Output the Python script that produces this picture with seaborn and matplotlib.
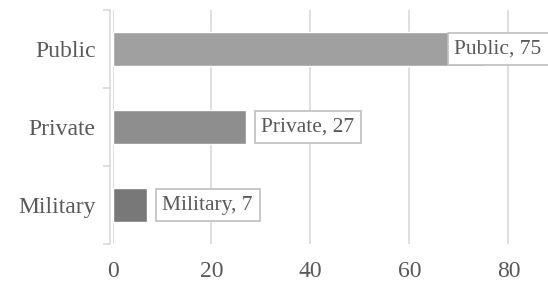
import matplotlib
matplotlib.use("Agg")
import matplotlib.pyplot as plt
import seaborn as sns
import pandas as pd

categories = ["Public", "Private", "Military"]
values = [75, 27, 7]
bar_colors = ["#a0a0a0", "#8e8e8e", "#787878"]

df = pd.DataFrame({"sector": categories, "count": values})

sns.set_style("white")
plt.rcParams["font.family"] = ["Liberation Serif", "DejaVu Serif"]

fig = plt.figure(figsize=(5.48, 2.85), dpi=100)
ax = fig.add_axes([112.5 / 548, 41 / 285, (548 - 112.5) / 548, 234 / 285])

sns.barplot(data=df, x="count", y="sector", hue="sector", palette=bar_colors,
            orient="h", width=0.44, legend=False, ax=ax, saturation=1)

xmax = 88
ax.set_xlim(0, xmax)
ax.set_ylim(2.5, -0.5)
ax.set_xticks([0, 20, 40, 60, 80])
ax.xaxis.grid(True, color="#d9d9d9", linewidth=1.2)
ax.set_axisbelow(True)
ax.set_xlabel("")
ax.set_ylabel("")

for s in ["top", "right", "bottom"]:
    ax.spines[s].set_visible(False)
ax.spines["left"].set_color("#d9d9d9")
ax.spines["left"].set_linewidth(1.2)
ax.spines["left"].set_position(("outward", 2))

ax.set_yticks([-0.5, 0.5, 1.5, 2.5], minor=True)
ax.tick_params(axis="y", which="minor", length=5, color="#d9d9d9", width=1.2, left=True)
ax.tick_params(axis="y", which="major", length=0, pad=10, labelsize=17, labelcolor="#595959")
ax.tick_params(axis="x", length=0, pad=12, labelsize=17, labelcolor="#595959")

box = dict(boxstyle="square,pad=0.32", facecolor="white", edgecolor="#bfbfbf", linewidth=1.2)
for i, (cat, val) in enumerate(zip(categories, values)):
    label = f"{cat}, {val}"
    if val + 20 > xmax:
        ax.annotate(label, xy=(xmax, i), xytext=(-4.5, 0), textcoords="offset points",
                    ha="right", va="center", fontsize=15.5, color="#595959", bbox=box,
                    annotation_clip=False)
    else:
        ax.annotate(label, xy=(val, i), xytext=(11, 0), textcoords="offset points",
                    ha="left", va="center", fontsize=15.5, color="#595959", bbox=box)

fig.savefig("out.png", dpi=100)
